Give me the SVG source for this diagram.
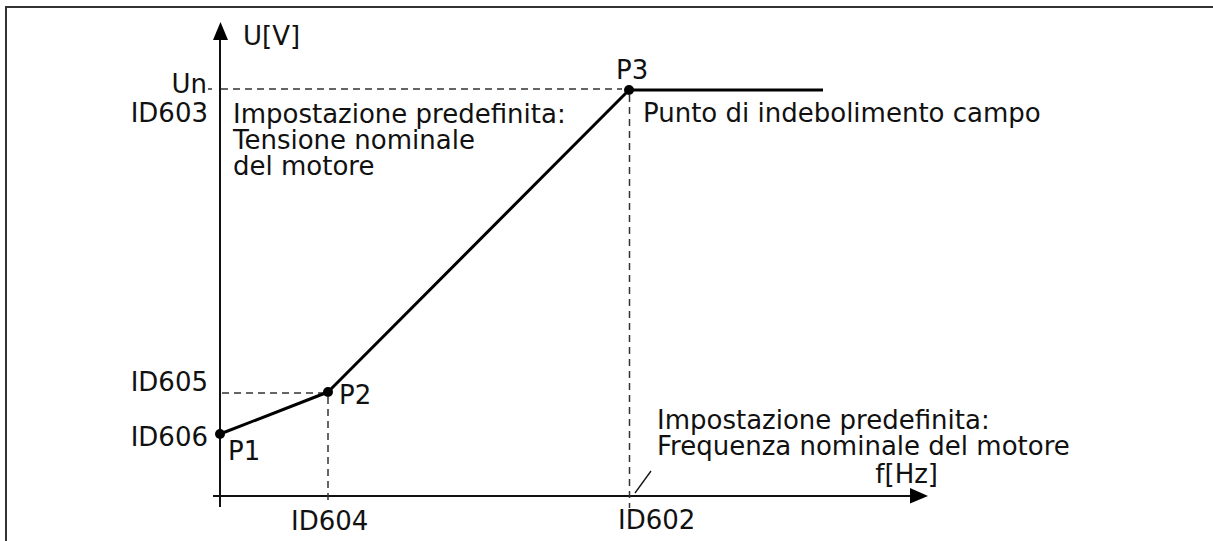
<svg xmlns="http://www.w3.org/2000/svg" width="1213" height="541" viewBox="0 0 1213 541">
<style>
text{font-family:"DejaVu Sans","Liberation Sans",sans-serif;font-size:26px;fill:#111}
.end{text-anchor:end}
.axis{stroke:#111;stroke-width:2;fill:none}
.dash{stroke:#333;stroke-width:1.5;stroke-dasharray:7 5;fill:none}
.curve{stroke:#000;stroke-width:3;fill:none;stroke-linejoin:round}
.dot{fill:#000}
</style>
<rect width="1213" height="541" fill="#fff"/>
<path d="M6,541 V7 H1213" fill="none" stroke="#333" stroke-width="2"/>
<g id="connectors">
<line class="axis" x1="220" y1="507" x2="220" y2="40"/>
<path d="M213,40 L220.5,22 L228,40 Z" fill="#000"/>
<line class="axis" x1="213" y1="496" x2="910" y2="496"/>
<path d="M910,488 L928,496 L910,503.5 Z" fill="#000"/>
<line x1="208" y1="89" x2="212" y2="89" stroke="#333" stroke-width="1.5"/>
<line class="dash" x1="221" y1="89" x2="622" y2="89"/>
<line class="dash" x1="222" y1="393" x2="324" y2="393"/>
<line class="dash" x1="328" y1="397" x2="328" y2="504"/>
<line class="dash" x1="629.5" y1="95" x2="629.5" y2="508"/>
<line x1="635" y1="493" x2="651" y2="471" stroke="#111" stroke-width="1.3"/>
<polyline class="curve" points="220,434 328,392 629,90 823,90"/>
</g>
<g id="P1"><circle class="dot" cx="220" cy="434" r="5"/><text x="228" y="460">P1</text></g>
<g id="P2"><circle class="dot" cx="328" cy="392" r="5"/><text x="339" y="404">P2</text></g>
<g id="P3"><circle class="dot" cx="629" cy="90" r="5"/><text x="616" y="79">P3</text></g>
<g id="labels-y">
<text x="243" y="45">U[V]</text>
<text class="end" x="207" y="93">Un</text>
<text class="end" x="208" y="122">ID603</text>
<text class="end" x="208" y="391">ID605</text>
<text class="end" x="208" y="446">ID606</text>
</g>
<g id="labels-x">
<text x="291" y="530">ID604</text>
<text x="618" y="529">ID602</text>
<text class="end" x="938" y="483">f[Hz]</text>
</g>
<g id="notes">
<text x="233" y="123">Impostazione predefinita:<tspan x="233" dy="26">Tensione nominale</tspan><tspan x="233" dy="26">del motore</tspan></text>
<text x="643" y="122">Punto di indebolimento campo</text>
<text x="657" y="429">Impostazione predefinita:<tspan x="657" dy="26">Frequenza nominale del motore</tspan></text>
</g>
</svg>
